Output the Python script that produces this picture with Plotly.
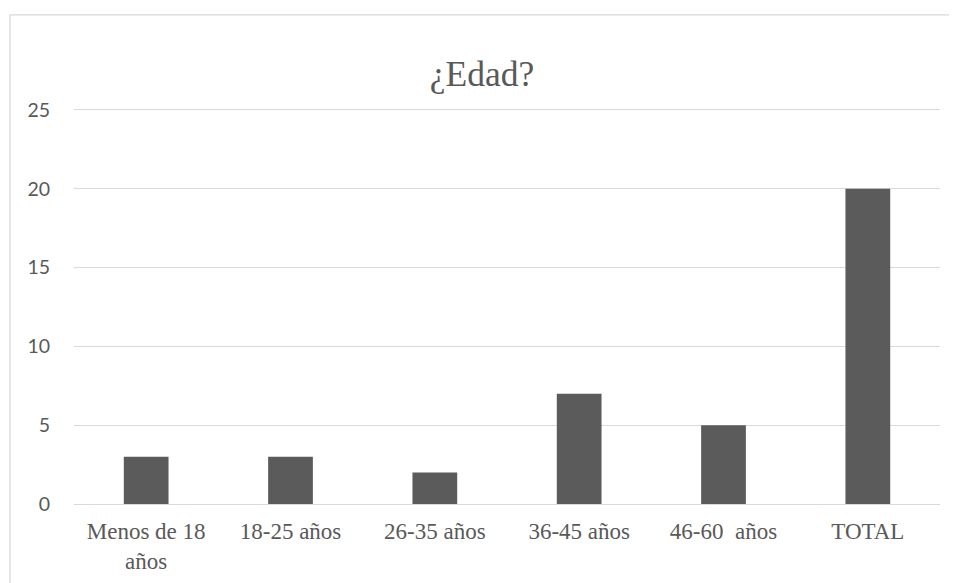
import plotly.graph_objects as go

categories = ["Menos de 18<br>años", "18-25 años", "26-35 años", "36-45 años", "46-60  años", "TOTAL"]
values = [3, 3, 2, 7, 5, 20]
y_ticks = [0, 5, 10, 15, 20, 25]
y_max = 25.5  # a little headroom so the 25 gridline is drawn

OFF = 8  # default page body margin
px_per_unit = (504 - 110) / 25
W, H = 957 - OFF, 583 - OFF
ph = px_per_unit * y_max
B = 79
T = (504 - OFF) - ph
L, R = 74 - OFF, 17
pw = W - L - R

fig = go.Figure(go.Bar(x=categories, y=values, marker=dict(color="#5b5b5b", line=dict(width=0)),
                       width=0.31))

bx = (10 - OFF - L) / pw
by = (H - B - (15 - OFF)) / ph
border = "#d9d9d9"
fig.add_shape(type="line", xref="paper", yref="paper", x0=bx, x1=bx, y0=-0.5, y1=by,
              line=dict(color=border, width=1.3))
fig.add_shape(type="line", xref="paper", yref="paper", x0=bx, x1=1.1, y0=by, y1=by,
              line=dict(color=border, width=1.3))

fig.update_layout(
    width=W, height=H,
    margin=dict(l=L, r=R, t=T, b=B),
    paper_bgcolor="white", plot_bgcolor="white",
    showlegend=False,
    title=dict(text="¿Edad?", x=(482 - OFF) / W, xanchor="center", y=1 - (74 - OFF) / H, yanchor="middle",
               font=dict(family="Liberation Serif", size=35.5, color="#595959")),
    xaxis=dict(showgrid=False, showline=False, zeroline=False, ticks="", automargin=False,
               tickfont=dict(family="Liberation Serif", size=23, color="#595959"),
               ticklabelstandoff=11),
    yaxis=dict(range=[0, y_max], tickvals=y_ticks, showgrid=True, gridcolor="#d9d9d9", gridwidth=1.3,
               zeroline=True, zerolinecolor="#d9d9d9", zerolinewidth=1.3, showline=False, ticks="",
               automargin=False,
               tickfont=dict(family="Lato", size=19.5, color="#595959"),
               ticklabelstandoff=23),
    bargap=0.69,
)

fig.write_html("out.html")
